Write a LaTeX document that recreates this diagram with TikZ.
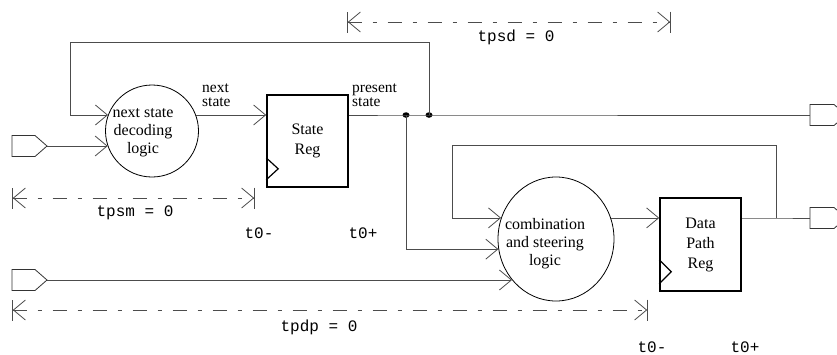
\documentclass[tikz,border=0pt]{standalone}
\usepackage{fontspec}
\setmainfont{Liberation Serif}
\setmonofont{Liberation Mono}
\usetikzlibrary{positioning,calc,shapes.geometric,arrows.meta}

\begin{document}
\begin{tikzpicture}[x=1pt,y=-1pt,
    font=\fontsize{16}{18}\selectfont,
    wire/.style={draw=black!70, line width=0.8pt},
    tip/.style={-{Straight Barb[length=12pt,width=20pt]}},
    dim/.style={draw=black!70, line width=0.8pt,
      dash pattern=on 14pt off 11pt on 4pt off 11pt,
      {Bar[width=21pt]Straight Barb[length=12pt,width=20pt]}-{Straight Barb[length=12pt,width=20pt]Bar[width=21pt]}},
    logic/.style={draw, ellipse, line width=0.8pt, inner sep=0pt},
    reg/.style={draw, rectangle, line width=1.6pt, minimum width=81pt,
      minimum height=92pt, align=center, font=\fontsize{16}{20}\selectfont},
    portline/.style={draw=black!80, line width=0.8pt, line join=miter},
    dot/.style={fill, ellipse, minimum width=7pt, minimum height=5.5pt, inner sep=0pt},
    tlabel/.style={font=\ttfamily\fontsize{16}{18}\selectfont},
    wlabel/.style={align=left, anchor=west, inner sep=1pt, font=\fontsize{15.5}{14.5}\selectfont}]
  \useasboundingbox (0,0) rectangle (837,354);

  % state machine part
  \node[logic, minimum width=93pt, minimum height=92pt,
        label={[align=center, xshift=-9pt, yshift=-2pt]center:next state\\decoding\\logic}] (dec) at (152,131) {};
  \node[reg] (sreg) at (307.5,141) {State\\Reg};
  \coordinate (inA) at (47,146);
  \node[dot] (j1) at (406,115) {};
  \node[dot] (j2) at (429,115) {};
  \coordinate (outS) at (810,115);
  \node[wlabel] (nsLbl) at (201,95) {next\\state};
  \node[wlabel] (psLbl) at (351,95) {present\\state};

  % data path part
  \node[logic, minimum width=116pt, minimum height=124pt,
        label={[align=center, xshift=-11pt, yshift=-5pt]center:combination\\and steering\\logic}] (comb) at (556,239) {};
  \node[reg, minimum height=93pt] (dreg) at (700.5,244.5) {Data\\Path\\Reg};
  \coordinate (inB) at (47,280);
  \coordinate (outD) at (810,218);
  \coordinate (j3) at (776,218);

  % ports
  \foreach \p in {inA,inB}
    \draw[portline] (\p) -- ++(-12,-10.5) -- ++(-23,0) -- ++(0,21) -- ++(23,0) -- cycle;
  \foreach \p in {outS,outD}
    \draw[portline] (\p) -- ++(0,-10.5) -- ++(24,0) -- ++(12,10.5) -- ++(-12,10.5) -- ++(-24,0) -- cycle;

  % clock marks
  \draw[line width=1.2pt] ($(sreg.south west)+(0,-30)$) -- ++(12,11) -- ++(-12,11);
  \draw[line width=1.2pt] ($(dreg.south west)+(0,-32)$) -- ++(12,12) -- ++(-12,12);

  % wires
  \draw[wire, tip] (inA) -- (inA -| dec.199);
  \draw[wire, tip] (dec.20) -- (dec.20 -| sreg.west);
  \draw[wire] (sreg.east |- j1) -- (j1.center) -- (j2.center) -- (outS);
  \draw[wire, tip] (j2.center) |- (70,42) |- (dec.160);
  \draw[wire, tip] (j1.center) |- (comb.190);
  \draw[wire, tip] (inB) -- (inB -| comb.223);
  \draw[wire, tip] (comb.21) -- (comb.21 -| dreg.west);
  \draw[wire] (dreg.east |- j3) -- (j3) -- (outD);
  \draw[wire, tip] (j3) |- (452,145) |- (comb.159);

  % timing
  \coordinate (sdA) at (347,22);  \coordinate (sdB) at (671,22);
  \coordinate (smA) at (12,198);  \coordinate (smB) at (255,198);
  \coordinate (dpA) at (12,310);  \coordinate (dpB) at (648,310);
  \draw[dim] (sdA) -- (sdB);
  \draw[dim] (smA) -- (smB);
  \draw[dim] (dpA) -- (dpB);
  \node[tlabel] (tpsd) at (516,37) {tpsd = 0};
  \node[tlabel] (tpsm) at (135,213) {tpsm = 0};
  \node[tlabel] (tpdp) at (319,327) {tpdp = 0};
  \node[tlabel] (sMinus) at (259,233) {t0-};
  \node[tlabel] (sPlus) at (363,233) {t0+};
  \node[tlabel] (dMinus) at (652,347) {t0-};
  \node[tlabel] (dPlus) at (745,347) {t0+};
\end{tikzpicture}
\end{document}
